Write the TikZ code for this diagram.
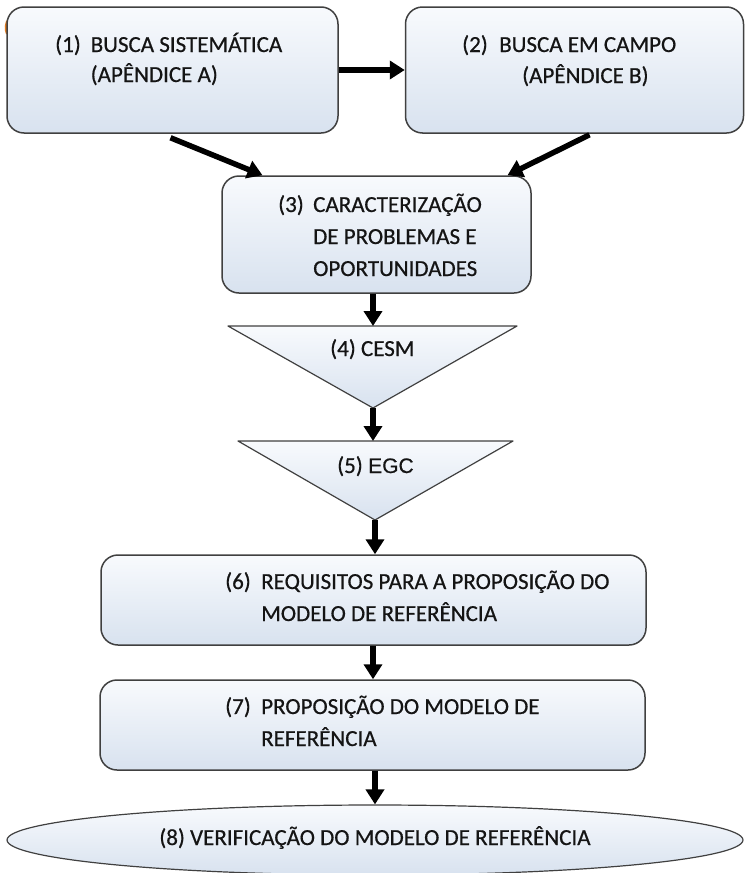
\documentclass[tikz,border=0pt]{standalone}
\usepackage{fontspec}
\setmainfont{Carlito}[FakeBold=0.6]
\newfontfamily\arialfont{Liberation Sans}[FakeBold=0.6]
\usetikzlibrary{arrows.meta,shapes.geometric}
\definecolor{boxtop}{HTML}{F8FAFD}
\definecolor{boxbot}{HTML}{D8E2EF}
\definecolor{edge}{HTML}{404040}
\definecolor{ink}{HTML}{141414}
\definecolor{tabmark}{HTML}{E07B20}

\begin{document}
\begin{tikzpicture}[x=1pt,y=-1pt,
  stagebox/.style={draw=edge, line width=1.5pt, rounded corners=17pt,
    top color=boxtop, bottom color=boxbot, inner sep=0pt},
  lbl/.style={anchor=base west, inner sep=0pt, text=ink,
    font=\fontsize{23}{28}\selectfont},
  flow/.style={line width=5.5pt, black, -{Triangle[width=18pt,length=15pt]}},
  funnel/.style={draw=edge, line width=1.2pt, line join=round,
    top color=boxtop, bottom color=boxbot}]
\useasboundingbox (0,0) rectangle (745,873);

% small orange mark peeking out behind the first box
\draw[tabmark, line width=2pt] (9,19) .. controls (5,22) and (5,30) .. (7,34);

% rounded stage boxes
\node[stagebox, minimum width=331pt, minimum height=126pt] (box1) at (172.5,70) {};
\node[stagebox, minimum width=338pt, minimum height=126pt] (box2) at (574.5,70) {};
\node[stagebox, minimum width=309pt, minimum height=117pt] (box3) at (376.5,234.5) {};
\node[stagebox, minimum width=545pt, minimum height=90pt] (box6) at (373.5,600) {};
\node[stagebox, minimum width=545pt, minimum height=90pt] (box7) at (372.5,725) {};

% funnel-shaped stages
\path[funnel] (228,326) -- (517,326) -- (373,408) -- cycle;
\coordinate (t4top) at (373,326);
\coordinate (t4apex) at (373,408);
\path[funnel] (238,441) -- (513,441) -- (375,520) -- cycle;
\coordinate (t5top) at (375,441);
\coordinate (t5apex) at (375,520);

% closing stage
\node[ellipse, draw=edge, line width=1.2pt, top color=boxtop, bottom color=boxbot,
  minimum width=736pt, minimum height=70pt, inner sep=0pt] (stage8) at (375,840) {};

% texts
\node[lbl] (n1) at (55,52) {(1)};
\node[lbl] (s1a) at (90.5,52) {BUSCA SISTEMÁTICA};
\node[lbl] (s1b) at (90.5,82) {(APÊNDICE A)};

\node[lbl] (n2) at (462,52) {(2)};
\node[lbl] (s2a) at (499,52) {BUSCA EM CAMPO};
\node[lbl] (s2b) at (522,83) {(APÊNDICE B)};

\node[lbl] (n3) at (278,212) {(3)};
\node[lbl] (s3a) at (313,212) {CARACTERIZAÇÃO};
\node[lbl] (s3b) at (313,244) {DE PROBLEMAS E};
\node[lbl] (s3c) at (313,276) {OPORTUNIDADES};

\node[lbl] (s4) at (330,356) {(4) CESM};

\node[lbl] (n5) at (337,473) {(5)};
\node[anchor=base west, inner sep=0pt, text=ink, font=\arialfont\fontsize{21}{26}\selectfont] (s5) at (368,473) {EGC};

\node[lbl] (n6) at (225,589) {(6)};
\node[lbl] (s6a) at (261,589) {REQUISITOS PARA A PROPOSIÇÃO DO};
\node[lbl] (s6b) at (261,621) {MODELO DE REFERÊNCIA};

\node[lbl] (n7) at (225,714) {(7)};
\node[lbl] (s7a) at (261,714) {PROPOSIÇÃO DO MODELO DE};
\node[lbl] (s7b) at (261,746) {REFERÊNCIA};

\node[lbl, anchor=base] (s8) at (375,845) {(8) VERIFICAÇÃO DO MODELO DE REFERÊNCIA};

% connectors
\draw[flow] (box1.east) -- (box2.west);
\draw[flow] ([shift={(-2,4)}]box1.south) -- ([xshift=-114pt]box3.north);
\draw[flow] ([shift={(15,1)}]box2.south) -- ([xshift=131pt]box3.north);
\draw[flow] (box3.south -| t4top) -- (t4top);
\draw[flow] (t4apex) -- (t4apex |- t5top);
\draw[flow] (t5apex) -- (t5apex |- box6.north);
\draw[flow] (box6.south -| t4top) -- (t4top |- box7.north);
\draw[flow] (box7.south -| stage8.north) -- (stage8.north);
\end{tikzpicture}
\end{document}
